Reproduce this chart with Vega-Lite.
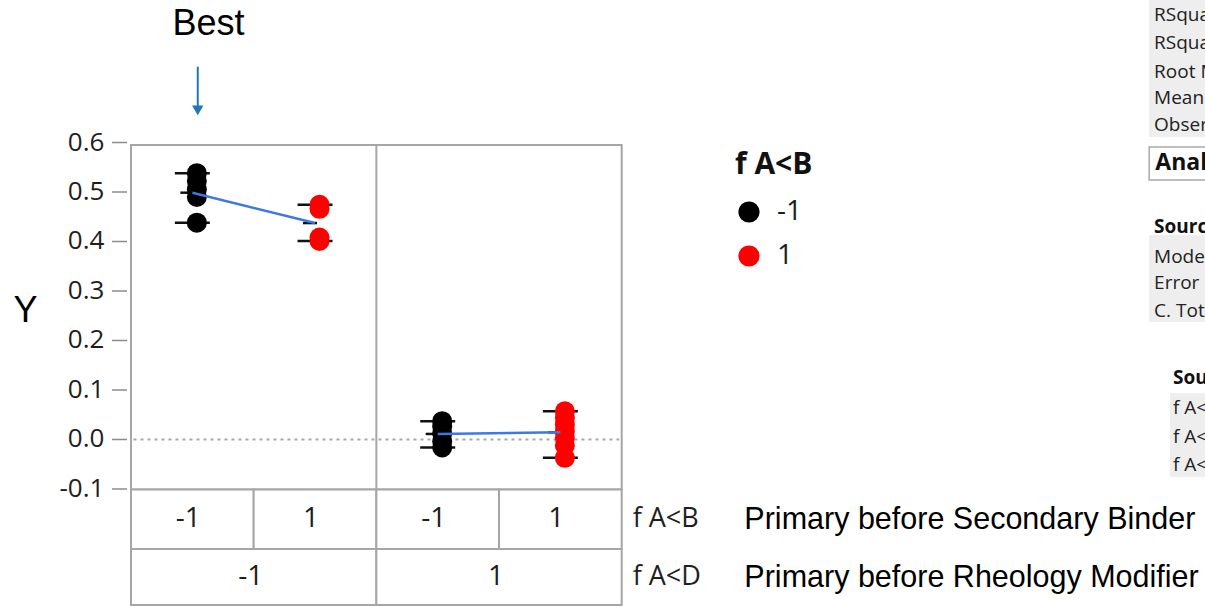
{
  "$schema": "https://vega.github.io/schema/vega-lite/v6.json",
  "width": 1205,
  "height": 606,
  "padding": 0,
  "autosize": {"type": "none"},
  "background": "white",
  "config": {"view": {"stroke": null}, "font": "Open Sans"},
  "datasets": {
    "pts": [
      {"fAD": "-1", "fAB": "-1", "pos": 1, "Y": 0.538},
      {"fAD": "-1", "fAB": "-1", "pos": 1, "Y": 0.522},
      {"fAD": "-1", "fAB": "-1", "pos": 1, "Y": 0.505},
      {"fAD": "-1", "fAB": "-1", "pos": 1, "Y": 0.490},
      {"fAD": "-1", "fAB": "-1", "pos": 1, "Y": 0.438},
      {"fAD": "-1", "fAB": "1", "pos": 2, "Y": 0.474},
      {"fAD": "-1", "fAB": "1", "pos": 2, "Y": 0.466},
      {"fAD": "-1", "fAB": "1", "pos": 2, "Y": 0.408},
      {"fAD": "-1", "fAB": "1", "pos": 2, "Y": 0.401},
      {"fAD": "1", "fAB": "-1", "pos": 3, "Y": 0.037},
      {"fAD": "1", "fAB": "-1", "pos": 3, "Y": 0.027},
      {"fAD": "1", "fAB": "-1", "pos": 3, "Y": 0.012},
      {"fAD": "1", "fAB": "-1", "pos": 3, "Y": -0.004},
      {"fAD": "1", "fAB": "-1", "pos": 3, "Y": -0.016},
      {"fAD": "1", "fAB": "1", "pos": 4, "Y": 0.057},
      {"fAD": "1", "fAB": "1", "pos": 4, "Y": 0.044},
      {"fAD": "1", "fAB": "1", "pos": 4, "Y": 0.030},
      {"fAD": "1", "fAB": "1", "pos": 4, "Y": 0.016},
      {"fAD": "1", "fAB": "1", "pos": 4, "Y": 0.003},
      {"fAD": "1", "fAB": "1", "pos": 4, "Y": -0.012},
      {"fAD": "1", "fAB": "1", "pos": 4, "Y": -0.037}
    ],
    "yticks": [
      {"value": -0.1, "label": "-0.1"},
      {"value": 0.0, "label": "0.0"},
      {"value": 0.1, "label": "0.1"},
      {"value": 0.2, "label": "0.2"},
      {"value": 0.3, "label": "0.3"},
      {"value": 0.4, "label": "0.4"},
      {"value": 0.5, "label": "0.5"},
      {"value": 0.6, "label": "0.6"}
    ],
    "cells": [
      {"factor": "f A<B", "label": "-1", "lo": 0.5, "hi": 1.5, "mid": 1},
      {"factor": "f A<B", "label": "1", "lo": 1.5, "hi": 2.5, "mid": 2},
      {"factor": "f A<B", "label": "-1", "lo": 2.5, "hi": 3.5, "mid": 3},
      {"factor": "f A<B", "label": "1", "lo": 3.5, "hi": 4.5, "mid": 4},
      {"factor": "f A<D", "label": "-1", "lo": 0.5, "hi": 2.5, "mid": 1.5},
      {"factor": "f A<D", "label": "1", "lo": 2.5, "hi": 4.5, "mid": 3.5}
    ],
    "factors": [
      {"factor": "f A<B", "desc": "Primary before Secondary Binder"},
      {"factor": "f A<D", "desc": "Primary before Rheology Modifier"}
    ],
    "report": [
      {"t": "RSquare", "kind": "row", "u": 8.84, "v": 0.8576},
      {"t": "RSquare Adj", "kind": "row", "u": 8.84, "v": 0.8010},
      {"t": "Root Mean Square Error", "kind": "row", "u": 8.84, "v": 0.7424},
      {"t": "Mean of Response", "kind": "row", "u": 8.84, "v": 0.6899},
      {"t": "Observations (or Sum Wgts)", "kind": "row", "u": 8.84, "v": 0.6354},
      {"t": "Analysis of Variance", "kind": "title", "u": 8.85, "v": 0.5586},
      {"t": "Source", "kind": "head", "u": 8.84, "v": 0.4293},
      {"t": "Model", "kind": "row", "u": 8.84, "v": 0.3687},
      {"t": "Error", "kind": "row", "u": 8.84, "v": 0.3162},
      {"t": "C. Total", "kind": "row", "u": 8.84, "v": 0.2596},
      {"t": "Source", "kind": "head", "u": 8.994, "v": 0.1242},
      {"t": "f A<B", "kind": "row", "u": 8.994, "v": 0.0636},
      {"t": "f A<D", "kind": "row", "u": 8.994, "v": 0.0050},
      {"t": "f A<B*f A<D", "kind": "row", "u": 8.994, "v": -0.0515}
    ]
  },
  "layer": [
    {
      "data": {"values": [{}]},
      "mark": {"type": "rect", "fill": "#eeeeee"},
      "encoding": {
        "x": {"datum": 8.8, "type": "quantitative", "scale": {"type": "linear", "domain": [-0.568, 9.255], "nice": false, "zero": false}, "axis": null},
        "x2": {"datum": 9.3},
        "y": {"datum": 0.8879, "type": "quantitative", "scale": {"type": "linear", "domain": [-0.3364, 0.8879], "nice": false, "zero": false}, "axis": null},
        "y2": {"datum": 0.6111}
      }
    },
    {
      "data": {"values": [{}]},
      "mark": {"type": "rect", "fill": "#eeeeee"},
      "encoding": {
        "x": {"datum": 8.8, "type": "quantitative", "axis": null},
        "x2": {"datum": 9.3},
        "y": {"datum": 0.4131, "type": "quantitative", "axis": null},
        "y2": {"datum": 0.2374}
      }
    },
    {
      "data": {"values": [{}]},
      "mark": {"type": "rect", "fill": "#eeeeee"},
      "encoding": {
        "x": {"datum": 8.97, "type": "quantitative", "axis": null},
        "x2": {"datum": 9.3},
        "y": {"datum": 0.0939, "type": "quantitative", "axis": null},
        "y2": {"datum": -0.0758}
      }
    },
    {
      "data": {"values": [{}]},
      "mark": {"type": "rect", "fill": "white", "stroke": "#a9a9a9", "strokeWidth": 1.5},
      "encoding": {
        "x": {"datum": 8.8, "type": "quantitative", "axis": null},
        "x2": {"datum": 9.3},
        "y": {"datum": 0.5909, "type": "quantitative", "axis": null},
        "y2": {"datum": 0.5242}
      }
    },
    {
      "data": {"name": "report"},
      "transform": [{"filter": "datum.kind === 'row'"}],
      "mark": {"type": "text", "align": "left", "baseline": "middle", "font": "Open Sans", "fontSize": 19, "color": "#222222"},
      "encoding": {
        "x": {"field": "u", "type": "quantitative", "axis": null},
        "y": {"field": "v", "type": "quantitative", "axis": null},
        "text": {"field": "t"}
      }
    },
    {
      "data": {"name": "report"},
      "transform": [{"filter": "datum.kind === 'head'"}],
      "mark": {"type": "text", "align": "left", "baseline": "middle", "font": "Open Sans", "fontSize": 19, "fontWeight": "bold", "color": "#111111"},
      "encoding": {
        "x": {"field": "u", "type": "quantitative", "axis": null},
        "y": {"field": "v", "type": "quantitative", "axis": null},
        "text": {"field": "t"}
      }
    },
    {
      "data": {"name": "report"},
      "transform": [{"filter": "datum.kind === 'title'"}],
      "mark": {"type": "text", "align": "left", "baseline": "middle", "font": "Open Sans", "fontSize": 23, "fontWeight": "bold", "color": "#111111"},
      "encoding": {
        "x": {"field": "u", "type": "quantitative", "axis": null},
        "y": {"field": "v", "type": "quantitative", "axis": null},
        "text": {"field": "t"}
      }
    },
    {
      "data": {"values": [{}]},
      "mark": {"type": "rect", "fill": null, "fillOpacity": 0, "stroke": "#a6a6a6", "strokeWidth": 2},
      "encoding": {
        "x": {"datum": 0.5, "type": "quantitative", "axis": null},
        "x2": {"datum": 4.5},
        "y": {"datum": -0.101, "type": "quantitative", "axis": null},
        "y2": {"datum": 0.595}
      }
    },
    {
      "data": {"values": [{}]},
      "mark": {"type": "rule", "color": "#a6a6a6", "strokeWidth": 2},
      "encoding": {
        "x": {"datum": 2.5, "type": "quantitative", "axis": null},
        "y": {"datum": -0.101, "type": "quantitative", "axis": null},
        "y2": {"datum": 0.595}
      }
    },
    {
      "data": {"values": [{}]},
      "mark": {"type": "rule", "color": "#a8a8a8", "strokeWidth": 2, "strokeDash": [3, 4]},
      "encoding": {
        "x": {"datum": 0.52, "type": "quantitative", "axis": null},
        "x2": {"datum": 4.48},
        "y": {"datum": 0, "type": "quantitative", "axis": null}
      }
    },
    {
      "data": {"name": "yticks"},
      "mark": {"type": "rule", "color": "#8c8c8c", "strokeWidth": 1.5},
      "encoding": {
        "x": {"datum": 0.345, "type": "quantitative", "axis": null},
        "x2": {"datum": 0.4676},
        "y": {"field": "value", "type": "quantitative", "axis": null}
      }
    },
    {
      "data": {"name": "yticks"},
      "mark": {"type": "text", "align": "right", "baseline": "middle", "font": "Open Sans", "fontSize": 26, "color": "#1e1e1e"},
      "encoding": {
        "x": {"datum": 0.283, "type": "quantitative", "axis": null},
        "y": {"field": "value", "type": "quantitative", "axis": null},
        "text": {"field": "label"}
      }
    },
    {
      "data": {"name": "cells"},
      "transform": [{"filter": "datum.factor === 'f A<B'"}],
      "mark": {"type": "rect", "fill": "white", "stroke": "#a6a6a6", "strokeWidth": 2},
      "encoding": {
        "x": {"field": "lo", "type": "quantitative", "axis": null},
        "x2": {"field": "hi"},
        "y": {"datum": -0.101, "type": "quantitative", "axis": null},
        "y2": {"datum": -0.2212}
      }
    },
    {
      "data": {"name": "cells"},
      "transform": [{"filter": "datum.factor === 'f A<D'"}],
      "mark": {"type": "rect", "fill": "white", "stroke": "#a6a6a6", "strokeWidth": 2},
      "encoding": {
        "x": {"field": "lo", "type": "quantitative", "axis": null},
        "x2": {"field": "hi"},
        "y": {"datum": -0.2212, "type": "quantitative", "axis": null},
        "y2": {"datum": -0.3343}
      }
    },
    {
      "data": {"name": "cells"},
      "transform": [{"filter": "datum.factor === 'f A<B'"}],
      "mark": {"type": "text", "align": "center", "baseline": "middle", "dx": -4, "font": "Open Sans", "fontSize": 28, "color": "#1e1e1e"},
      "encoding": {
        "x": {"field": "mid", "type": "quantitative", "axis": null},
        "y": {"datum": -0.1606, "type": "quantitative", "axis": null},
        "text": {"field": "label"}
      }
    },
    {
      "data": {"name": "cells"},
      "transform": [{"filter": "datum.factor === 'f A<D'"}],
      "mark": {"type": "text", "align": "center", "baseline": "middle", "dx": -3, "font": "Open Sans", "fontSize": 28, "color": "#1e1e1e"},
      "encoding": {
        "x": {"field": "mid", "type": "quantitative", "axis": null},
        "y": {"datum": -0.2778, "type": "quantitative", "axis": null},
        "text": {"field": "label"}
      }
    },
    {
      "data": {"name": "factors"},
      "transform": [{"filter": "datum.factor === 'f A<B'"}],
      "layer": [
        {
          "mark": {"type": "text", "align": "left", "baseline": "middle", "dx": 11, "font": "Open Sans", "fontSize": 27, "color": "#1e1e1e"},
          "encoding": {
            "x": {"datum": 4.5, "type": "quantitative", "axis": null},
            "y": {"datum": -0.1606, "type": "quantitative", "axis": null},
            "text": {"field": "factor"}
          }
        },
        {
          "mark": {"type": "text", "align": "left", "baseline": "middle", "font": "Liberation Sans", "fontSize": 30.5, "color": "#000000"},
          "encoding": {
            "x": {"datum": 5.5, "type": "quantitative", "axis": null},
            "y": {"datum": -0.1626, "type": "quantitative", "axis": null},
            "text": {"field": "desc"}
          }
        }
      ]
    },
    {
      "data": {"name": "factors"},
      "transform": [{"filter": "datum.factor === 'f A<D'"}],
      "layer": [
        {
          "mark": {"type": "text", "align": "left", "baseline": "middle", "dx": 11, "font": "Open Sans", "fontSize": 27, "color": "#1e1e1e"},
          "encoding": {
            "x": {"datum": 4.5, "type": "quantitative", "axis": null},
            "y": {"datum": -0.2778, "type": "quantitative", "axis": null},
            "text": {"field": "factor"}
          }
        },
        {
          "mark": {"type": "text", "align": "left", "baseline": "middle", "font": "Liberation Sans", "fontSize": 30.5, "color": "#000000"},
          "encoding": {
            "x": {"datum": 5.5, "type": "quantitative", "axis": null},
            "y": {"datum": -0.2798, "type": "quantitative", "axis": null},
            "text": {"field": "desc"}
          }
        }
      ]
    },
    {
      "data": {"values": [{"label": "Best"}]},
      "mark": {"type": "text", "align": "center", "baseline": "middle", "font": "Liberation Sans", "fontSize": 36, "color": "#000000"},
      "encoding": {
        "x": {"datum": 1.132, "type": "quantitative", "axis": null},
        "y": {"datum": 0.8394, "type": "quantitative", "axis": null},
        "text": {"field": "label"}
      }
    },
    {
      "data": {"values": [{"label": "Y"}]},
      "mark": {"type": "text", "align": "center", "baseline": "middle", "font": "Liberation Sans", "fontSize": 36, "color": "#000000"},
      "encoding": {
        "x": {"datum": -0.36, "type": "quantitative", "axis": null},
        "y": {"datum": 0.2596, "type": "quantitative", "axis": null},
        "text": {"field": "label"}
      }
    },
    {
      "data": {"values": [{}]},
      "mark": {"type": "rule", "color": "#1f78b4", "strokeWidth": 2},
      "encoding": {
        "x": {"datum": 1.044, "type": "quantitative", "axis": null},
        "y": {"datum": 0.7531, "type": "quantitative", "axis": null},
        "y2": {"datum": 0.672}
      }
    },
    {
      "data": {"values": [{}]},
      "mark": {"type": "point", "shape": "triangle-down", "filled": true, "size": 130, "color": "#1f78b4", "opacity": 1},
      "encoding": {
        "x": {"datum": 1.044, "type": "quantitative", "axis": null},
        "y": {"datum": 0.665, "type": "quantitative", "axis": null}
      }
    },
    {
      "data": {"name": "pts"},
      "mark": {"type": "tick", "orient": "horizontal", "size": 35, "thickness": 2.5, "color": "#111111", "opacity": 1},
      "encoding": {
        "x": {"field": "pos", "type": "quantitative", "axis": null},
        "y": {"aggregate": "min", "field": "Y", "type": "quantitative", "axis": null}
      }
    },
    {
      "data": {"name": "pts"},
      "mark": {"type": "tick", "orient": "horizontal", "size": 35, "thickness": 2.5, "color": "#111111", "opacity": 1},
      "encoding": {
        "x": {"field": "pos", "type": "quantitative", "axis": null},
        "y": {"aggregate": "max", "field": "Y", "type": "quantitative", "axis": null}
      }
    },
    {
      "data": {"name": "pts"},
      "mark": {"type": "tick", "orient": "horizontal", "size": 14, "thickness": 2.5, "xOffset": -5, "color": "#111111", "opacity": 1},
      "encoding": {
        "x": {"field": "pos", "type": "quantitative", "axis": null},
        "y": {"aggregate": "mean", "field": "Y", "type": "quantitative", "axis": null}
      }
    },
    {
      "data": {"name": "pts"},
      "mark": {"type": "circle", "size": 400, "opacity": 1, "xOffset": 4.5},
      "encoding": {
        "x": {"field": "pos", "type": "quantitative", "axis": null},
        "y": {"field": "Y", "type": "quantitative", "axis": null},
        "color": {
          "field": "fAB",
          "type": "nominal",
          "scale": {"domain": ["-1", "1"], "range": ["#000000", "#ff0000"]},
          "legend": {
            "title": "f A<B",
            "orient": "none",
            "legendX": 735,
            "legendY": 150,
            "titleFont": "Open Sans",
            "titleFontSize": 30,
            "titleFontWeight": "bold",
            "titleColor": "#111111",
            "titlePadding": 18,
            "labelFont": "Open Sans",
            "labelFontSize": 28,
            "labelColor": "#1e1e1e",
            "labelOffset": 14,
            "symbolType": "circle",
            "symbolSize": 450,
            "symbolStrokeWidth": 0,
            "rowPadding": 16
          }
        }
      }
    },
    {
      "data": {"name": "pts"},
      "mark": {"type": "line", "color": "#3c78e6", "strokeWidth": 2.5},
      "encoding": {
        "x": {"field": "pos", "type": "quantitative", "axis": null},
        "y": {"aggregate": "mean", "field": "Y", "type": "quantitative", "axis": null},
        "detail": {"field": "fAD", "type": "nominal"}
      }
    }
  ]
}
